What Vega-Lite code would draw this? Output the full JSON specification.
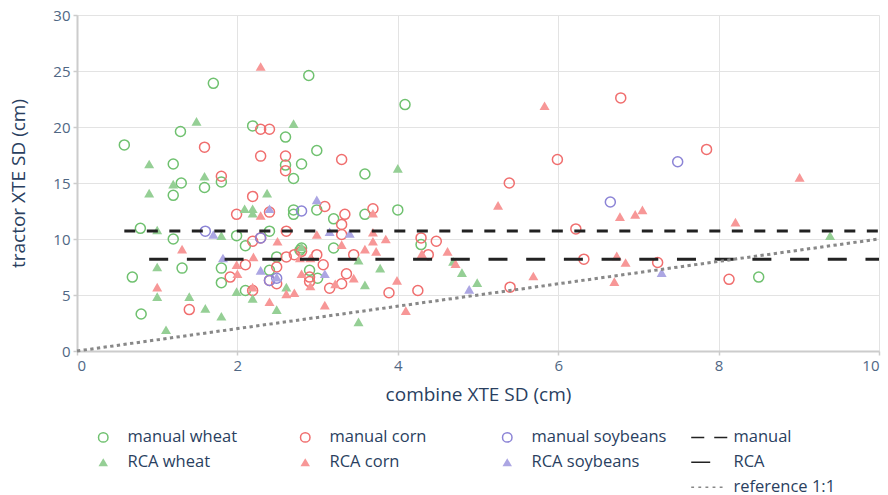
{
  "$schema": "https://vega.github.io/schema/vega-lite/v6.json",
  "width": 802,
  "height": 336,
  "autosize": {"type": "none"},
  "padding": {"left": 77, "top": 15, "right": 9, "bottom": 144},
  "background": "white",
  "config": {
    "font": "Open Sans",
    "view": {"stroke": null},
    "axis": {
      "labelFont": "Open Sans", "labelFontSize": 15, "labelColor": "#506784",
      "titleFont": "Open Sans", "titleFontSize": 19, "titleFontWeight": "normal", "titleColor": "#2a3f5f",
      "gridColor": "#e3e3e3", "gridWidth": 1,
      "domainColor": "#cccccc", "domainWidth": 2,
      "tickColor": "#cccccc", "tickSize": 4, "tickWidth": 1.5
    }
  },
  "datasets": {
    "pts": [
      {"x": 0.59, "y": 18.4, "series": "manual wheat"},
      {"x": 0.79, "y": 10.95, "series": "manual wheat"},
      {"x": 0.69, "y": 6.6, "series": "manual wheat"},
      {"x": 0.8, "y": 3.3, "series": "manual wheat"},
      {"x": 1.7, "y": 23.9, "series": "manual wheat"},
      {"x": 1.29, "y": 19.6, "series": "manual wheat"},
      {"x": 1.2, "y": 16.7, "series": "manual wheat"},
      {"x": 1.3, "y": 15.0, "series": "manual wheat"},
      {"x": 1.2, "y": 13.9, "series": "manual wheat"},
      {"x": 1.59, "y": 14.6, "series": "manual wheat"},
      {"x": 1.8, "y": 15.1, "series": "manual wheat"},
      {"x": 2.19, "y": 20.1, "series": "manual wheat"},
      {"x": 2.89, "y": 24.6, "series": "manual wheat"},
      {"x": 2.6, "y": 19.1, "series": "manual wheat"},
      {"x": 2.99, "y": 17.9, "series": "manual wheat"},
      {"x": 2.8, "y": 16.7, "series": "manual wheat"},
      {"x": 2.6, "y": 16.6, "series": "manual wheat"},
      {"x": 2.7, "y": 15.4, "series": "manual wheat"},
      {"x": 3.59, "y": 15.8, "series": "manual wheat"},
      {"x": 4.09, "y": 22.0, "series": "manual wheat"},
      {"x": 3.59, "y": 12.2, "series": "manual wheat"},
      {"x": 4.0, "y": 12.6, "series": "manual wheat"},
      {"x": 4.29, "y": 9.5, "series": "manual wheat"},
      {"x": 8.5, "y": 6.6, "series": "manual wheat"},
      {"x": 1.2, "y": 10.0, "series": "manual wheat"},
      {"x": 1.31, "y": 7.4, "series": "manual wheat"},
      {"x": 1.8, "y": 7.4, "series": "manual wheat"},
      {"x": 1.8, "y": 6.1, "series": "manual wheat"},
      {"x": 1.99, "y": 10.3, "series": "manual wheat"},
      {"x": 2.1, "y": 9.4, "series": "manual wheat"},
      {"x": 2.1, "y": 5.4, "series": "manual wheat"},
      {"x": 2.4, "y": 10.7, "series": "manual wheat"},
      {"x": 2.4, "y": 7.2, "series": "manual wheat"},
      {"x": 2.7, "y": 12.6, "series": "manual wheat"},
      {"x": 2.7, "y": 12.2, "series": "manual wheat"},
      {"x": 2.99, "y": 12.6, "series": "manual wheat"},
      {"x": 3.2, "y": 11.8, "series": "manual wheat"},
      {"x": 2.8, "y": 9.2, "series": "manual wheat"},
      {"x": 3.2, "y": 9.2, "series": "manual wheat"},
      {"x": 2.9, "y": 7.2, "series": "manual wheat"},
      {"x": 3.0, "y": 6.5, "series": "manual wheat"},
      {"x": 2.49, "y": 8.4, "series": "manual wheat"},
      {"x": 2.78, "y": 9.0, "series": "manual wheat"},

      {"x": 1.59, "y": 18.2, "series": "manual corn"},
      {"x": 2.29, "y": 17.4, "series": "manual corn"},
      {"x": 1.8, "y": 15.6, "series": "manual corn"},
      {"x": 2.19, "y": 13.8, "series": "manual corn"},
      {"x": 2.29, "y": 19.8, "series": "manual corn"},
      {"x": 2.4, "y": 19.8, "series": "manual corn"},
      {"x": 2.6, "y": 17.4, "series": "manual corn"},
      {"x": 2.6, "y": 16.1, "series": "manual corn"},
      {"x": 3.3, "y": 17.1, "series": "manual corn"},
      {"x": 3.09, "y": 12.9, "series": "manual corn"},
      {"x": 3.69, "y": 12.7, "series": "manual corn"},
      {"x": 6.78, "y": 22.6, "series": "manual corn"},
      {"x": 7.85, "y": 18.0, "series": "manual corn"},
      {"x": 5.99, "y": 17.1, "series": "manual corn"},
      {"x": 5.39, "y": 15.0, "series": "manual corn"},
      {"x": 4.29, "y": 10.1, "series": "manual corn"},
      {"x": 4.48, "y": 9.8, "series": "manual corn"},
      {"x": 4.38, "y": 8.6, "series": "manual corn"},
      {"x": 6.22, "y": 10.9, "series": "manual corn"},
      {"x": 6.32, "y": 8.2, "series": "manual corn"},
      {"x": 3.89, "y": 5.2, "series": "manual corn"},
      {"x": 4.25, "y": 5.4, "series": "manual corn"},
      {"x": 5.4, "y": 5.7, "series": "manual corn"},
      {"x": 7.24, "y": 7.9, "series": "manual corn"},
      {"x": 8.13, "y": 6.4, "series": "manual corn"},
      {"x": 1.99, "y": 12.2, "series": "manual corn"},
      {"x": 2.4, "y": 12.4, "series": "manual corn"},
      {"x": 1.4, "y": 3.7, "series": "manual corn"},
      {"x": 1.91, "y": 6.6, "series": "manual corn"},
      {"x": 2.1, "y": 7.7, "series": "manual corn"},
      {"x": 2.19, "y": 9.8, "series": "manual corn"},
      {"x": 2.19, "y": 5.4, "series": "manual corn"},
      {"x": 2.29, "y": 10.1, "series": "manual corn"},
      {"x": 2.49, "y": 7.5, "series": "manual corn"},
      {"x": 2.4, "y": 6.3, "series": "manual corn"},
      {"x": 2.49, "y": 6.0, "series": "manual corn"},
      {"x": 2.61, "y": 8.4, "series": "manual corn"},
      {"x": 2.61, "y": 10.7, "series": "manual corn"},
      {"x": 2.8, "y": 8.9, "series": "manual corn"},
      {"x": 2.9, "y": 6.6, "series": "manual corn"},
      {"x": 2.9, "y": 6.2, "series": "manual corn"},
      {"x": 2.99, "y": 8.6, "series": "manual corn"},
      {"x": 3.07, "y": 7.7, "series": "manual corn"},
      {"x": 3.15, "y": 5.6, "series": "manual corn"},
      {"x": 3.3, "y": 11.3, "series": "manual corn"},
      {"x": 3.3, "y": 10.4, "series": "manual corn"},
      {"x": 3.34, "y": 12.2, "series": "manual corn"},
      {"x": 3.3, "y": 6.0, "series": "manual corn"},
      {"x": 3.36, "y": 6.9, "series": "manual corn"},
      {"x": 3.45, "y": 8.6, "series": "manual corn"},
      {"x": 2.71, "y": 8.6, "series": "manual corn"},

      {"x": 6.65, "y": 13.3, "series": "manual soybeans"},
      {"x": 7.49, "y": 16.9, "series": "manual soybeans"},
      {"x": 1.6, "y": 10.7, "series": "manual soybeans"},
      {"x": 2.29, "y": 10.1, "series": "manual soybeans"},
      {"x": 2.4, "y": 6.3, "series": "manual soybeans"},
      {"x": 2.49, "y": 6.5, "series": "manual soybeans"},
      {"x": 2.8, "y": 12.5, "series": "manual soybeans"},

      {"x": 1.49, "y": 20.5, "series": "RCA wheat"},
      {"x": 2.7, "y": 20.3, "series": "RCA wheat"},
      {"x": 0.9, "y": 16.7, "series": "RCA wheat"},
      {"x": 1.59, "y": 15.6, "series": "RCA wheat"},
      {"x": 1.2, "y": 14.9, "series": "RCA wheat"},
      {"x": 0.9, "y": 14.1, "series": "RCA wheat"},
      {"x": 2.09, "y": 12.7, "series": "RCA wheat"},
      {"x": 2.19, "y": 12.7, "series": "RCA wheat"},
      {"x": 2.37, "y": 14.1, "series": "RCA wheat"},
      {"x": 4.0, "y": 16.3, "series": "RCA wheat"},
      {"x": 1.0, "y": 10.8, "series": "RCA wheat"},
      {"x": 1.0, "y": 7.5, "series": "RCA wheat"},
      {"x": 1.0, "y": 4.85, "series": "RCA wheat"},
      {"x": 1.11, "y": 1.9, "series": "RCA wheat"},
      {"x": 1.4, "y": 4.85, "series": "RCA wheat"},
      {"x": 1.6, "y": 3.8, "series": "RCA wheat"},
      {"x": 1.8, "y": 3.1, "series": "RCA wheat"},
      {"x": 1.8, "y": 10.3, "series": "RCA wheat"},
      {"x": 1.99, "y": 5.3, "series": "RCA wheat"},
      {"x": 2.19, "y": 4.7, "series": "RCA wheat"},
      {"x": 2.19, "y": 12.3, "series": "RCA wheat"},
      {"x": 2.49, "y": 3.7, "series": "RCA wheat"},
      {"x": 2.61, "y": 5.7, "series": "RCA wheat"},
      {"x": 2.8, "y": 9.3, "series": "RCA wheat"},
      {"x": 3.51, "y": 2.6, "series": "RCA wheat"},
      {"x": 3.59, "y": 5.9, "series": "RCA wheat"},
      {"x": 3.51, "y": 8.1, "series": "RCA wheat"},
      {"x": 3.78, "y": 7.4, "series": "RCA wheat"},
      {"x": 4.8, "y": 7.0, "series": "RCA wheat"},
      {"x": 4.99, "y": 6.1, "series": "RCA wheat"},
      {"x": 4.69, "y": 8.0, "series": "RCA wheat"},
      {"x": 9.39, "y": 10.3, "series": "RCA wheat"},

      {"x": 2.29, "y": 25.4, "series": "RCA corn"},
      {"x": 5.83, "y": 21.9, "series": "RCA corn"},
      {"x": 9.01, "y": 15.5, "series": "RCA corn"},
      {"x": 5.25, "y": 13.0, "series": "RCA corn"},
      {"x": 6.77, "y": 12.0, "series": "RCA corn"},
      {"x": 6.96, "y": 12.2, "series": "RCA corn"},
      {"x": 7.05, "y": 12.6, "series": "RCA corn"},
      {"x": 8.21, "y": 11.5, "series": "RCA corn"},
      {"x": 6.73, "y": 8.5, "series": "RCA corn"},
      {"x": 6.84, "y": 7.9, "series": "RCA corn"},
      {"x": 6.7, "y": 6.2, "series": "RCA corn"},
      {"x": 5.69, "y": 6.7, "series": "RCA corn"},
      {"x": 4.1, "y": 3.6, "series": "RCA corn"},
      {"x": 3.99, "y": 6.3, "series": "RCA corn"},
      {"x": 4.62, "y": 8.9, "series": "RCA corn"},
      {"x": 4.72, "y": 7.8, "series": "RCA corn"},
      {"x": 4.3, "y": 8.7, "series": "RCA corn"},
      {"x": 3.69, "y": 10.6, "series": "RCA corn"},
      {"x": 3.69, "y": 9.8, "series": "RCA corn"},
      {"x": 3.85, "y": 10.0, "series": "RCA corn"},
      {"x": 3.59, "y": 9.1, "series": "RCA corn"},
      {"x": 3.73, "y": 8.9, "series": "RCA corn"},
      {"x": 3.3, "y": 9.5, "series": "RCA corn"},
      {"x": 3.45, "y": 6.5, "series": "RCA corn"},
      {"x": 2.99, "y": 10.4, "series": "RCA corn"},
      {"x": 2.5, "y": 9.8, "series": "RCA corn"},
      {"x": 2.2, "y": 8.4, "series": "RCA corn"},
      {"x": 1.99, "y": 7.7, "series": "RCA corn"},
      {"x": 2.0, "y": 6.9, "series": "RCA corn"},
      {"x": 2.19, "y": 5.7, "series": "RCA corn"},
      {"x": 2.4, "y": 4.4, "series": "RCA corn"},
      {"x": 2.61, "y": 5.1, "series": "RCA corn"},
      {"x": 2.71, "y": 5.2, "series": "RCA corn"},
      {"x": 3.09, "y": 4.1, "series": "RCA corn"},
      {"x": 2.91, "y": 5.8, "series": "RCA corn"},
      {"x": 2.8, "y": 6.9, "series": "RCA corn"},
      {"x": 3.22, "y": 6.0, "series": "RCA corn"},
      {"x": 1.31, "y": 9.1, "series": "RCA corn"},
      {"x": 1.0, "y": 5.7, "series": "RCA corn"},
      {"x": 2.78, "y": 8.3, "series": "RCA corn"},
      {"x": 2.91, "y": 8.3, "series": "RCA corn"},
      {"x": 2.29, "y": 12.1, "series": "RCA corn"},
      {"x": 3.69, "y": 12.3, "series": "RCA corn"},

      {"x": 2.99, "y": 13.5, "series": "RCA soybeans"},
      {"x": 2.4, "y": 12.7, "series": "RCA soybeans"},
      {"x": 1.7, "y": 10.4, "series": "RCA soybeans"},
      {"x": 1.82, "y": 8.3, "series": "RCA soybeans"},
      {"x": 2.29, "y": 7.2, "series": "RCA soybeans"},
      {"x": 2.49, "y": 6.6, "series": "RCA soybeans"},
      {"x": 3.09, "y": 6.9, "series": "RCA soybeans"},
      {"x": 3.15, "y": 10.65, "series": "RCA soybeans"},
      {"x": 3.4, "y": 10.5, "series": "RCA soybeans"},
      {"x": 4.89, "y": 5.5, "series": "RCA soybeans"},
      {"x": 7.29, "y": 7.0, "series": "RCA soybeans"}
    ],
    "means": [
      {"method": "manual", "x": 0.59, "x2": 10, "y": 10.71},
      {"method": "RCA", "x": 0.9, "x2": 10, "y": 8.2}
    ],
    "ref": [
      {"x": 0, "y": 0},
      {"x": 10, "y": 10}
    ]
  },
  "layer": [
    {
      "data": {"name": "pts"},
      "mark": {"type": "point", "size": 100, "strokeWidth": 1.5, "opacity": 1},
      "encoding": {
        "x": {"field": "x", "type": "quantitative",
          "scale": {"domain": [0, 10], "nice": false, "zero": false},
          "axis": {"values": [0, 2, 4, 6, 8, 10], "format": "d", "title": "combine XTE SD (cm)", "titlePadding": 12, "labelPadding": 3}},
        "y": {"field": "y", "type": "quantitative",
          "scale": {"domain": [0, 30], "nice": false, "zero": false},
          "axis": {"values": [0, 5, 10, 15, 20, 25, 30], "format": "d", "title": "tractor XTE SD (cm)", "titlePadding": 24, "labelPadding": 3}},
        "shape": {"field": "series", "type": "nominal",
          "scale": {
            "domain": ["manual wheat", "manual corn", "manual soybeans", "manual", "RCA wheat", "RCA corn", "RCA soybeans", "RCA", "_p1", "_p2", "_p3", "reference 1:1"],
            "range": ["circle", "circle", "circle", "M-3.8,0H-1.05M1.05,0H3.8", "triangle-up", "triangle-up", "triangle-up", "M-3.8,0H0.2", "circle", "circle", "circle", "M-3.8,0H-3.2M-2.3,0H-1.7M-0.8,0H-0.2M0.7,0H1.3M2.2,0H2.8"]
          },
          "legend": {
            "title": null, "orient": "none", "legendX": 18, "legendY": 414,
            "direction": "horizontal", "columns": 4, "gridAlign": "all",
            "columnPadding": 21, "rowPadding": 8,
            "symbolSize": 90, "labelOffset": 16,
            "labelFont": "Open Sans", "labelFontSize": 16.5, "labelColor": "#2a3f5f",
            "symbolStrokeWidth": 1.5,
            "labelExpr": "indexof(datum.label, '_p') === 0 ? '' : datum.label",
            "encode": {
              "symbols": {
                "update": {
                  "strokeWidth": {"signal": "indexof(['manual','RCA','reference 1:1'], datum.value) >= 0 ? 2.8 : 1.5"}
                }
              }
            }
          }
        },
        "stroke": {"field": "series", "type": "nominal",
          "scale": {
            "domain": ["manual wheat", "manual corn", "manual soybeans", "manual", "RCA wheat", "RCA corn", "RCA soybeans", "RCA", "_p1", "_p2", "_p3", "reference 1:1"],
            "range": ["#6fc16f", "#f06e6e", "#8c84d6", "#222222", "transparent", "transparent", "transparent", "#222222", "transparent", "transparent", "transparent", "#888888"]
          }
        },
        "fill": {"field": "series", "type": "nominal",
          "scale": {
            "domain": ["manual wheat", "manual corn", "manual soybeans", "manual", "RCA wheat", "RCA corn", "RCA soybeans", "RCA", "_p1", "_p2", "_p3", "reference 1:1"],
            "range": ["transparent", "transparent", "transparent", "transparent", "#95cf95", "#f79797", "#aca6e3", "transparent", "transparent", "transparent", "transparent", "transparent"]
          }
        }
      }
    },
    {
      "data": {"name": "means"},
      "transform": [{"filter": "datum.method === 'manual'"}],
      "mark": {"type": "rule", "color": "#222222", "strokeWidth": 3, "strokeDash": [11, 11.5]},
      "encoding": {
        "x": {"field": "x", "type": "quantitative"},
        "x2": {"field": "x2"},
        "y": {"field": "y", "type": "quantitative"}
      }
    },
    {
      "data": {"name": "means"},
      "transform": [{"filter": "datum.method === 'RCA'"}],
      "mark": {"type": "rule", "color": "#222222", "strokeWidth": 3, "strokeDash": [19, 18.7]},
      "encoding": {
        "x": {"field": "x", "type": "quantitative"},
        "x2": {"field": "x2"},
        "y": {"field": "y", "type": "quantitative"}
      }
    },
    {
      "data": {"name": "ref"},
      "mark": {"type": "line", "color": "#888888", "strokeWidth": 3, "strokeDash": [3.3, 3.4]},
      "encoding": {
        "x": {"field": "x", "type": "quantitative"},
        "y": {"field": "y", "type": "quantitative"}
      }
    }
  ]
}
